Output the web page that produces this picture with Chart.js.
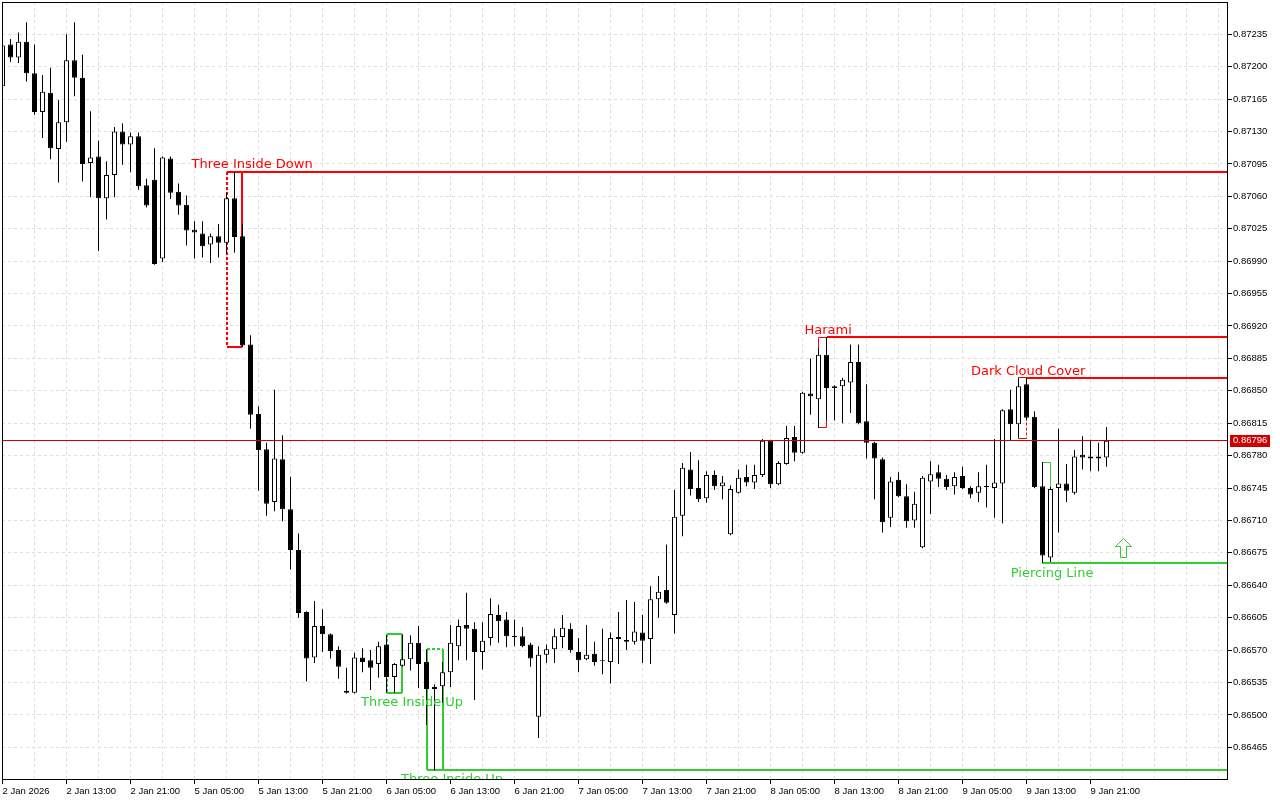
<!DOCTYPE html>
<html>
<head>
<meta charset="utf-8">
<title>H1 candlestick patterns</title>
<script src="https://cdn.jsdelivr.net/npm/chart.js@4.4.1/dist/chart.umd.min.js"></script>
<style>
    html, body { margin: 0; padding: 0; background: #ffffff; }
    #wrap { width: 1280px; height: 800px; }
</style>
</head>
<body>
<div id="wrap"><canvas id="chart"></canvas></div>
<script>
// Hourly bars, bar 0 = 2 Jan 05:00
const opens = [
    0.87179, 0.87224, 0.87210, 0.87227, 0.87193, 0.87151, 0.87172, 0.87111, 0.87140, 0.87207,
    0.87188, 0.87096, 0.87103, 0.87058, 0.87083, 0.87130, 0.87116, 0.87125, 0.87072, 0.87078,
    0.86993, 0.87101, 0.87065, 0.87051, 0.87024, 0.87020, 0.87008, 0.87017, 0.87010, 0.87058,
    0.87017, 0.86900, 0.86825, 0.86787, 0.86730, 0.86776, 0.86722, 0.86678, 0.86611, 0.86562,
    0.86596, 0.86587, 0.86570, 0.86526, 0.86524, 0.86562, 0.86559, 0.86555, 0.86576, 0.86541,
    0.86553, 0.86560, 0.86578, 0.86557, 0.86528, 0.86531, 0.86546, 0.86574, 0.86597, 0.86593,
    0.86568, 0.86583, 0.86608, 0.86603, 0.86585, 0.86585, 0.86576, 0.86498, 0.86565, 0.86571,
    0.86584, 0.86593, 0.86568, 0.86560, 0.86566, 0.86559, 0.86557, 0.86584, 0.86581, 0.86579,
    0.86589, 0.86582, 0.86625, 0.86635, 0.86608, 0.86715, 0.86765, 0.86745, 0.86734, 0.86759,
    0.86747, 0.86695, 0.86740, 0.86757, 0.86751, 0.86759, 0.86796, 0.86749, 0.86771, 0.86800,
    0.86783, 0.86847, 0.86841, 0.86889, 0.86853, 0.86855, 0.86859, 0.86881, 0.86817, 0.86794,
    0.86776, 0.86713, 0.86754, 0.86736, 0.86710, 0.86681, 0.86752, 0.86762, 0.86755, 0.86747,
    0.86758, 0.86745, 0.86740, 0.86747, 0.86745, 0.86750, 0.86830, 0.86814, 0.86857, 0.86822,
    0.86747, 0.86670, 0.86745, 0.86750, 0.86740, 0.86781, 0.86779, 0.86779, 0.86778
];
const highs = [
    0.87229, 0.87230, 0.87237, 0.87248, 0.87224, 0.87191, 0.87199, 0.87164, 0.87235, 0.87248,
    0.87213, 0.87152, 0.87120, 0.87098, 0.87135, 0.87139, 0.87129, 0.87129, 0.87079, 0.87112,
    0.87103, 0.87103, 0.87074, 0.87061, 0.87033, 0.87033, 0.87020, 0.87030, 0.87064, 0.87086,
    0.87030, 0.86910, 0.86833, 0.86794, 0.86851, 0.86802, 0.86757, 0.86696, 0.86612, 0.86623,
    0.86614, 0.86588, 0.86574, 0.86551, 0.86567, 0.86572, 0.86570, 0.86579, 0.86586, 0.86556,
    0.86587, 0.86586, 0.86596, 0.86571, 0.86533, 0.86557, 0.86597, 0.86603, 0.86632, 0.86600,
    0.86600, 0.86626, 0.86619, 0.86611, 0.86603, 0.86595, 0.86578, 0.86574, 0.86576, 0.86593,
    0.86608, 0.86599, 0.86583, 0.86597, 0.86579, 0.86593, 0.86589, 0.86611, 0.86624, 0.86622,
    0.86608, 0.86639, 0.86650, 0.86684, 0.86743, 0.86772, 0.86784, 0.86775, 0.86763, 0.86764,
    0.86758, 0.86748, 0.86765, 0.86770, 0.86770, 0.86798, 0.86797, 0.86774, 0.86812, 0.86812,
    0.86849, 0.86885, 0.86896, 0.86908, 0.86856, 0.86864, 0.86900, 0.86900, 0.86857, 0.86795,
    0.86778, 0.86757, 0.86762, 0.86749, 0.86741, 0.86758, 0.86774, 0.86770, 0.86759, 0.86762,
    0.86768, 0.86747, 0.86762, 0.86770, 0.86798, 0.86830, 0.86851, 0.86864, 0.86864, 0.86828,
    0.86773, 0.86746, 0.86809, 0.86771, 0.86786, 0.86801, 0.86797, 0.86794, 0.86811
];
const lows = [
    0.87177, 0.87205, 0.87204, 0.87184, 0.87148, 0.87123, 0.87100, 0.87075, 0.87119, 0.87168,
    0.87076, 0.87059, 0.87001, 0.87035, 0.87059, 0.87094, 0.87086, 0.87067, 0.87048, 0.86986,
    0.86989, 0.87057, 0.87040, 0.87007, 0.86993, 0.86994, 0.86988, 0.86994, 0.86998, 0.86999,
    0.86897, 0.86809, 0.86742, 0.86715, 0.86720, 0.86709, 0.86657, 0.86605, 0.86536, 0.86556,
    0.86568, 0.86561, 0.86539, 0.86523, 0.86523, 0.86546, 0.86527, 0.86540, 0.86524, 0.86524,
    0.86552, 0.86548, 0.86529, 0.86489, 0.86440, 0.86513, 0.86530, 0.86559, 0.86559, 0.86516,
    0.86549, 0.86575, 0.86578, 0.86573, 0.86574, 0.86573, 0.86552, 0.86475, 0.86556, 0.86556,
    0.86572, 0.86567, 0.86546, 0.86559, 0.86553, 0.86544, 0.86534, 0.86555, 0.86570, 0.86576,
    0.86556, 0.86555, 0.86605, 0.86620, 0.86588, 0.86693, 0.86737, 0.86730, 0.86729, 0.86743,
    0.86733, 0.86694, 0.86739, 0.86747, 0.86744, 0.86757, 0.86745, 0.86748, 0.86770, 0.86774,
    0.86782, 0.86824, 0.86810, 0.86818, 0.86818, 0.86815, 0.86826, 0.86814, 0.86777, 0.86733,
    0.86697, 0.86703, 0.86735, 0.86702, 0.86702, 0.86680, 0.86717, 0.86746, 0.86743, 0.86738,
    0.86744, 0.86734, 0.86730, 0.86724, 0.86713, 0.86707, 0.86796, 0.86799, 0.86818, 0.86745,
    0.86664, 0.86665, 0.86697, 0.86730, 0.86738, 0.86765, 0.86763, 0.86763, 0.86768
];
const closes = [
    0.87223, 0.87210, 0.87227, 0.87193, 0.87151, 0.87173, 0.87112, 0.87140, 0.87207, 0.87188,
    0.87095, 0.87102, 0.87058, 0.87083, 0.87130, 0.87116, 0.87125, 0.87071, 0.87050, 0.86987,
    0.87102, 0.87064, 0.87050, 0.87023, 0.87021, 0.87006, 0.87017, 0.87010, 0.87058, 0.87016,
    0.86899, 0.86824, 0.86786, 0.86728, 0.86777, 0.86722, 0.86678, 0.86610, 0.86561, 0.86596,
    0.86587, 0.86569, 0.86552, 0.86524, 0.86562, 0.86557, 0.86551, 0.86574, 0.86541, 0.86555,
    0.86560, 0.86578, 0.86555, 0.86528, 0.86530, 0.86546, 0.86578, 0.86596, 0.86593, 0.86568,
    0.86580, 0.86609, 0.86601, 0.86585, 0.86584, 0.86574, 0.86561, 0.86565, 0.86571, 0.86585,
    0.86594, 0.86570, 0.86559, 0.86565, 0.86557, 0.86558, 0.86583, 0.86582, 0.86579, 0.86590,
    0.86580, 0.86625, 0.86633, 0.86621, 0.86714, 0.86767, 0.86744, 0.86733, 0.86759, 0.86747,
    0.86751, 0.86744, 0.86756, 0.86751, 0.86759, 0.86796, 0.86749, 0.86772, 0.86799, 0.86783,
    0.86848, 0.86844, 0.86889, 0.86853, 0.86855, 0.86862, 0.86881, 0.86815, 0.86794, 0.86777,
    0.86708, 0.86752, 0.86736, 0.86709, 0.86728, 0.86756, 0.86760, 0.86755, 0.86746, 0.86757,
    0.86745, 0.86738, 0.86747, 0.86746, 0.86751, 0.86829, 0.86814, 0.86855, 0.86821, 0.86746,
    0.86672, 0.86744, 0.86750, 0.86742, 0.86779, 0.86778, 0.86777, 0.86777, 0.86796
];

const lastPrice = 0.86796;

// one label every 8 bars, starting at bar 0
const timeLabels = [
    '2 Jan 2026', '2 Jan 13:00', '2 Jan 21:00', '5 Jan 05:00', '5 Jan 13:00', '5 Jan 21:00',
    '6 Jan 05:00', '6 Jan 13:00', '6 Jan 21:00', '7 Jan 05:00', '7 Jan 13:00', '7 Jan 21:00',
    '8 Jan 05:00', '8 Jan 13:00', '8 Jan 21:00', '9 Jan 05:00', '9 Jan 13:00', '9 Jan 21:00'
];
const priceTicks = [
    0.86465, 0.86500, 0.86535, 0.86570, 0.86605, 0.86640, 0.86675, 0.86710, 0.86745, 0.86780,
    0.86815, 0.86850, 0.86885, 0.86920, 0.86955, 0.86990, 0.87025, 0.87060, 0.87095, 0.87130,
    0.87165, 0.87200, 0.87235
];

// detected patterns
const patternNames = ['Three Inside Down', 'Harami', 'Dark Cloud Cover', 'Three Inside Up', 'Three Inside Up', 'Piercing Line'];
const patternBearish = [true, true, true, false, false, false];
const patternFrom = [28, 102, 127, 48, 53, 130];
const patternTo = [30, 103, 128, 50, 55, 131];
const patternTop = [0.87086, 0.86908, 0.86864, 0.86587, 0.86571, 0.86773];
const patternBottom = [0.86897, 0.86810, 0.86799, 0.86524, 0.86440, 0.86664];
const levelFrom = [28, 103, 128, null, 53, 130];
const levelPrice = [0.87086, 0.86908, 0.86864, null, 0.86440, 0.86664];
const labelBar = [31.2, 103.2, 128.2, 51.2, 56.2, 131.2];
const labelPrice = [0.87094, 0.86915, 0.86871, 0.86513, 0.86430, 0.86653];
const arrowBar = 140;
const arrowPrice = 0.86691;

// styles
const bearColor = '#ff0000';
const bullColor = '#32cd32';
const boxWidth = [2, 1, 1, 2, 2, 1];
const boxDash = ['left', null, 'right', 'left', 'top', null];
const gridColor = '#dedede';

function crisp(v, w) {
    return w % 2 ? Math.floor(v) + 0.5 : Math.round(v);
}

function line(ctx, x1, y1, x2, y2, w, dashed) {
    ctx.beginPath();
    ctx.lineWidth = w;
    ctx.setLineDash(dashed ? [3, 2] : []);
    ctx.moveTo(x1, y1);
    ctx.lineTo(x2, y2);
    ctx.stroke();
}

const patternBoxes = {
    id: 'patternBoxes',
    beforeDatasetsDraw(chart) {
        const { ctx, chartArea: a, scales: { x, y } } = chart;
        ctx.save();
        ctx.beginPath();
        ctx.rect(a.left, a.top, a.right - a.left, a.bottom - a.top);
        ctx.clip();
        patternNames.forEach((name, k) => {
            const w = boxWidth[k];
            ctx.strokeStyle = patternBearish[k] ? bearColor : bullColor;
            const x0 = crisp(x.getPixelForValue(patternFrom[k]), w);
            const x1 = crisp(x.getPixelForValue(patternTo[k]), w);
            const y0 = crisp(y.getPixelForValue(patternTop[k]), w);
            const y1 = crisp(y.getPixelForValue(patternBottom[k]), w);
            line(ctx, x0, y0, x1, y0, w, boxDash[k] === 'top');
            line(ctx, x0, y1, x1, y1, w, boxDash[k] === 'bottom');
            line(ctx, x0, y0, x0, y1, w, boxDash[k] === 'left');
            line(ctx, x1, y0, x1, y1, w, boxDash[k] === 'right');
            if (levelPrice[k] !== null) {
                const ly = crisp(y.getPixelForValue(levelPrice[k]), 2);
                const lx = crisp(x.getPixelForValue(levelFrom[k]), 2);
                line(ctx, lx, ly, a.right, ly, 2, false);
            }
        });
        ctx.restore();
    },
    afterDatasetsDraw(chart) {
        const { ctx, chartArea: a, scales: { x, y } } = chart;
        ctx.save();
        ctx.beginPath();
        ctx.rect(a.left, a.top, a.right - a.left, a.bottom - a.top);
        ctx.clip();

        // bid line
        const py = crisp(y.getPixelForValue(lastPrice), 1);
        ctx.strokeStyle = '#d00000';
        line(ctx, a.left, py, a.right, py, 1, false);

        // pattern names
        ctx.font = '13px "DejaVu Sans"';
        ctx.textAlign = 'center';
        ctx.textBaseline = 'middle';
        patternNames.forEach((name, k) => {
            ctx.fillStyle = patternBearish[k] ? bearColor : bullColor;
            ctx.fillText(name, x.getPixelForValue(labelBar[k]), y.getPixelForValue(labelPrice[k]));
        });

        // buy arrow
        const ax = Math.round(x.getPixelForValue(arrowBar)) + 0.5;
        const ay = Math.round(y.getPixelForValue(arrowPrice)) + 0.5;
        ctx.strokeStyle = bullColor;
        ctx.lineWidth = 1;
        ctx.setLineDash([]);
        ctx.beginPath();
        ctx.moveTo(ax, ay);
        ctx.lineTo(ax + 8, ay + 8);
        ctx.lineTo(ax + 3, ay + 8);
        ctx.lineTo(ax + 3, ay + 19);
        ctx.lineTo(ax - 3, ay + 19);
        ctx.lineTo(ax - 3, ay + 8);
        ctx.lineTo(ax - 8, ay + 8);
        ctx.closePath();
        ctx.stroke();
        ctx.restore();

        // price tag on the axis
        ctx.save();
        ctx.fillStyle = '#d00000';
        ctx.fillRect(a.right + 2, Math.round(py) - 6, 40, 12);
        ctx.fillStyle = '#ffffff';
        ctx.font = '9.5px "Liberation Sans"';
        ctx.textAlign = 'left';
        ctx.textBaseline = 'middle';
        ctx.fillText(lastPrice.toFixed(5), a.right + 5, py);
        ctx.restore();
    },
    afterDraw(chart) {
        const { ctx, chartArea: a } = chart;
        ctx.save();
        ctx.strokeStyle = '#000000';
        ctx.lineWidth = 1;
        ctx.strokeRect(a.left + 0.5, a.top + 0.5, a.right - a.left - 1, a.bottom - a.top - 1);
        ctx.restore();
    }
};

const wickData = highs.map((h, i) => ({ x: i, y: [lows[i], h] }));
const bodyData = opens.map((o, i) => ({ x: i, y: [o, closes[i]] }));
const bodyColors = opens.map((o, i) => (closes[i] > o ? '#ffffff' : '#000000'));

Chart.defaults.font.family = '"Liberation Sans", Arial, sans-serif';
Chart.defaults.font.size = 9.5;
Chart.defaults.color = '#000000';

new Chart(document.getElementById('chart'), {
    type: 'bar',
    data: {
        datasets: [{
            label: 'Body',
            data: bodyData,
            backgroundColor: bodyColors,
            borderColor: '#000000',
            borderWidth: 1,
            borderSkipped: false,
            barThickness: 5,
            minBarLength: 1,
            inflateAmount: 0,
            grouped: false
        }, {
            label: 'Wick',
            data: wickData,
            backgroundColor: '#000000',
            borderWidth: 0,
            barThickness: 1,
            inflateAmount: 0,
            grouped: false
        }]
    },
    options: {
        responsive: true,
        maintainAspectRatio: false,
        animation: false,
        devicePixelRatio: 1,
        layout: { padding: { left: 2, top: 2, right: 0, bottom: 0 } },
        plugins: {
            legend: { display: false },
            tooltip: { enabled: false }
        },
        scales: {
            x: {
                type: 'linear',
                min: -0.0625,
                max: 153.1875,
                offset: false,
                grid: {
                    offset: false,
                    color: gridColor,
                    tickLength: 4,
                    tickColor: (c) => (c.tick && c.tick.value % 8 === 0 && c.tick.value <= 136 ? '#000000' : 'rgba(0,0,0,0)')
                },
                border: { display: false, dash: [3, 3] },
                ticks: {
                    autoSkip: false,
                    maxRotation: 0,
                    minRotation: 0,
                    align: 'start',
                    padding: 2,
                    callback: (v) => (v % 8 === 0 ? (timeLabels[v / 8] || '') : '')
                },
                afterBuildTicks: (scale) => {
                    const t = [];
                    for (let v = 0; v <= 152; v += 4) t.push({ value: v });
                    scale.ticks = t;
                },
                afterFit: (scale) => {
                    scale.height = 20;
                    scale.paddingLeft = 0;
                    scale.paddingRight = 0;
                }
            },
            y: {
                type: 'linear',
                position: 'right',
                beginAtZero: false,
                min: 0.8642968,
                max: 0.8726988,
                grid: {
                    color: gridColor,
                    tickLength: 4,
                    tickColor: '#000000'
                },
                border: { display: false, dash: [3, 3] },
                ticks: {
                    padding: 1,
                    callback: (v) => v.toFixed(5)
                },
                afterBuildTicks: (scale) => {
                    scale.ticks = priceTicks.map((v) => ({ value: v }));
                },
                afterFit: (scale) => {
                    scale.width = 52;
                    scale.paddingTop = 0;
                    scale.paddingBottom = 0;
                }
            }
        }
    },
    plugins: [patternBoxes]
});
</script>
</body>
</html>
